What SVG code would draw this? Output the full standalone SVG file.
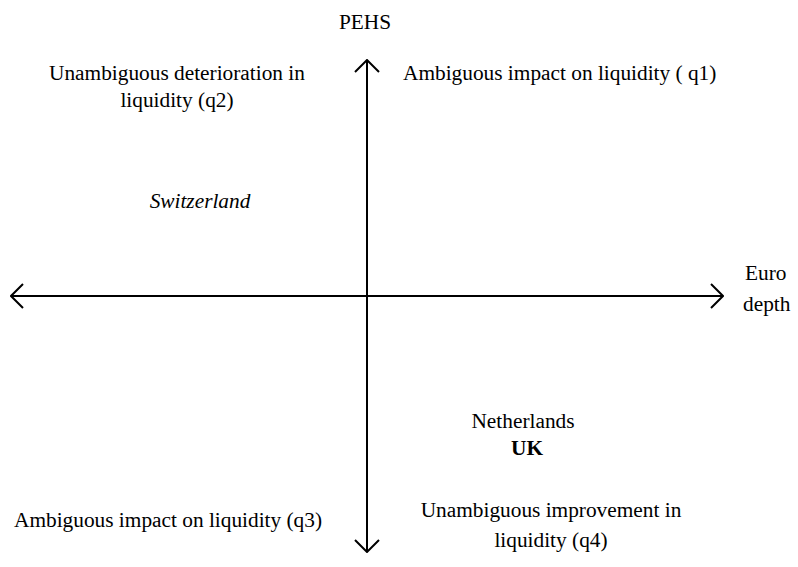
<svg xmlns="http://www.w3.org/2000/svg" width="798" height="567" viewBox="0 0 798 567">
  <style>
    .t { font-family: 'Liberation Serif', 'Times New Roman', serif; font-size: 21.33px; fill: #000; }
    .mid { text-anchor: middle; }
    .axis { stroke: #000; stroke-width: 2; fill: none; }
  </style>
  <defs>
    <!-- open V arrowhead shared by all four axis ends -->
    <marker id="open" viewBox="0 0 14 26" refX="13" refY="13" markerWidth="14" markerHeight="26" markerUnits="userSpaceOnUse" orient="auto">
      <path d="M1,1 L13,13 L1,25" fill="none" stroke="#000" stroke-width="2"/>
    </marker>
  </defs>

  <g id="connectors">
    <line class="axis" x1="367" y1="296" x2="367" y2="60" marker-end="url(#open)"/>
    <line class="axis" x1="367" y1="296" x2="367" y2="552" marker-end="url(#open)"/>
    <line class="axis" x1="367" y1="296" x2="11" y2="296" marker-end="url(#open)"/>
    <line class="axis" x1="367" y1="296" x2="723" y2="296" marker-end="url(#open)"/>
  </g>

  <g id="axis-y-label"><text class="t mid" x="365" y="29">PEHS</text></g>
  <g id="axis-x-label">
    <text class="t" x="745" y="280">Euro</text>
    <text class="t" x="743" y="311">depth</text>
  </g>
  <g id="q1"><text class="t" x="403" y="80">Ambiguous impact on liquidity ( q1)</text></g>
  <g id="q2">
    <text class="t mid" x="177" y="80">Unambiguous deterioration in</text>
    <text class="t mid" x="177" y="107">liquidity (q2)</text>
  </g>
  <g id="switzerland"><text class="t mid" x="200" y="208" font-style="italic">Switzerland</text></g>
  <g id="netherlands-uk">
    <text class="t mid" x="523" y="428">Netherlands</text>
    <text class="t mid" x="527" y="455" font-weight="bold">UK</text>
  </g>
  <g id="q3"><text class="t" x="14" y="527">Ambiguous impact on liquidity (q3)</text></g>
  <g id="q4">
    <text class="t mid" x="551" y="517">Unambiguous improvement in</text>
    <text class="t mid" x="551" y="547">liquidity (q4)</text>
  </g>
</svg>
